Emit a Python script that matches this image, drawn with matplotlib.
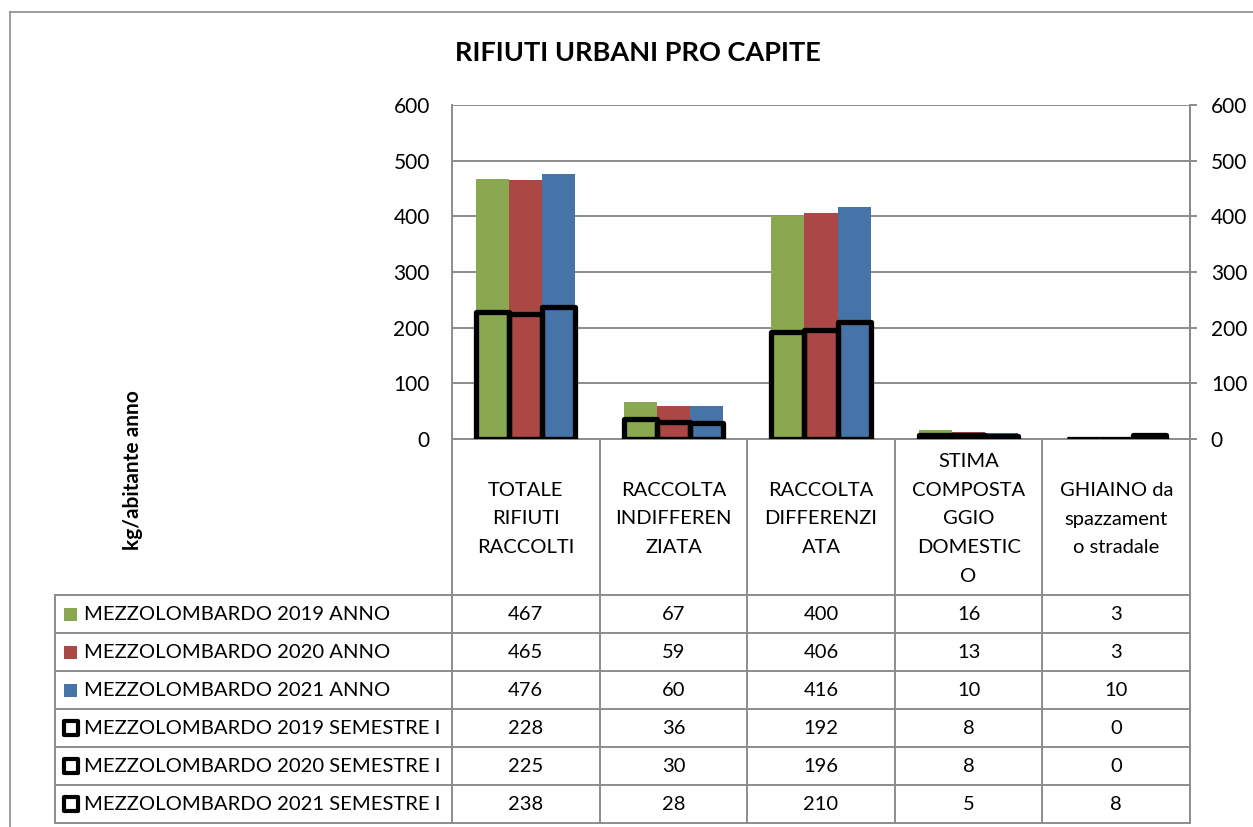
import numpy as np
import matplotlib.pyplot as plt
from matplotlib.patches import Rectangle
from matplotlib.transforms import blended_transform_factory

plt.rcParams['font.family'] = ['Lato', 'DejaVu Sans']

categories = ["TOTALE\nRIFIUTI\nRACCOLTI",
              "RACCOLTA\nINDIFFEREN\nZIATA",
              "RACCOLTA\nDIFFERENZI\nATA",
              "STIMA\nCOMPOSTA\nGGIO\nDOMESTIC\nO",
              "GHIAINO da\nspazzament\no stradale"]

anno_labels = ["MEZZOLOMBARDO 2019 ANNO",
               "MEZZOLOMBARDO 2020 ANNO",
               "MEZZOLOMBARDO 2021 ANNO"]
sem_labels = ["MEZZOLOMBARDO 2019 SEMESTRE I",
              "MEZZOLOMBARDO 2020 SEMESTRE I",
              "MEZZOLOMBARDO 2021 SEMESTRE I"]

anno_2019 = [467, 67, 400, 16, 3]
anno_2020 = [465, 59, 406, 13, 3]
anno_2021 = [476, 60, 416, 10, 10]
sem_2019 = [228, 36, 192, 8, 0]
sem_2020 = [225, 30, 196, 8, 0]
sem_2021 = [238, 28, 210, 5, 8]

anno_colors = ['#8aa84f', '#ab4744', '#4673a8']
grey = '#8c8c8c'

W, H = 1253, 827


def fx(px):
    return px / W


def fy(py):
    return 1 - py / H


fig = plt.figure(figsize=(12.53, 8.27), dpi=100)

# outer frame (cropped)
fig.add_artist(plt.Line2D([fx(10), fx(10)], [fy(12), 0], color=grey, lw=1.2))
fig.add_artist(plt.Line2D([fx(10), 1], [fy(12), fy(12)], color=grey, lw=1.2))

ax = fig.add_axes([fx(452), fy(439), (1190 - 452) / W, (439 - 105) / H])
ax.set_xlim(-0.5, len(categories) - 0.5)
ax.set_ylim(0, 600)
ax.set_yticks(range(0, 601, 100))
ax.yaxis.grid(True, color=grey, lw=1.4)
ax.set_axisbelow(True)
ax.set_xticks([])
ax.spines['top'].set_visible(False)
for s in ['left', 'right', 'bottom']:
    ax.spines[s].set_color(grey)
    ax.spines[s].set_linewidth(1.4)
ax.tick_params(axis='y', length=0, pad=16, labelsize=15)

x = np.arange(len(categories))
w = 0.224
anno = [anno_2019, anno_2020, anno_2021]
sem = [sem_2019, sem_2020, sem_2021]
for i in range(3):
    ax.bar(x + (i - 1) * w, anno[i], w, color=anno_colors[i], zorder=2)

# semester series: outlined bars on the secondary axis
ax2 = ax.twinx()
ax2.set_ylim(0, 600)
ax2.set_yticks(range(0, 601, 100))
for s in ['top', 'left', 'bottom']:
    ax2.spines[s].set_visible(False)
ax2.spines['right'].set_color(grey)
ax2.spines['right'].set_linewidth(1.4)
ax2.tick_params(axis='y', length=5, width=1.4, color=grey, pad=10, labelsize=15)
for i in range(3):
    ax2.bar(x + (i - 1) * w, sem[i], w, facecolor='none', edgecolor='black',
            linewidth=3.8, joinstyle='round', zorder=3)

fig.text(fx(638), fy(53), "RIFIUTI URBANI PRO CAPITE", ha='center', va='center',
         fontsize=19.5, fontweight='bold')

fig.text(fx(133), fy(470), "kg/abitante anno", rotation=90, ha='center', va='center',
         fontsize=15, fontweight='bold')

# data table
tr = blended_transform_factory(ax.transData, fig.transFigure)
edges = np.arange(len(categories) + 1) - 0.5
for e in edges:
    ax.plot([e, e], [fy(439), fy(823)], color=grey, lw=1.4, transform=tr, clip_on=False)
fig.add_artist(plt.Line2D([fx(55), fx(55)], [fy(595), fy(823)], color=grey, lw=1.4))

for c, lab in enumerate(categories):
    ax.text(c, fy(519), lab, transform=tr, ha='center', va='center', fontsize=14.5,
            linespacing=1.85)

row_h = 38
rows_labels = anno_labels + sem_labels
rows_values = anno + sem
for r in range(len(rows_labels) + 1):
    yy = fy(595 + r * row_h)
    fig.add_artist(plt.Line2D([fx(55), fx(1190)], [yy, yy], color=grey, lw=1.4))

for r, (lab, vals) in enumerate(zip(rows_labels, rows_values)):
    yc = fy(595 + r * row_h + row_h / 2)
    fig.text(fx(84), yc, lab, ha='left', va='center', fontsize=14.6)
    if r < 3:
        fig.add_artist(Rectangle((fx(64), yc - 6.5 / H), 13 / W, 13 / H,
                                 facecolor=anno_colors[r], edgecolor='none'))
    else:
        fig.add_artist(Rectangle((fx(64), yc - 7 / H), 14 / W, 14 / H,
                                 facecolor='white', edgecolor='black', linewidth=3,
                                 joinstyle='round'))
    for c, v in enumerate(vals):
        ax.text(c, yc, str(v), transform=tr, ha='center', va='center', fontsize=14.5)

fig.savefig('out.png', dpi=100)
